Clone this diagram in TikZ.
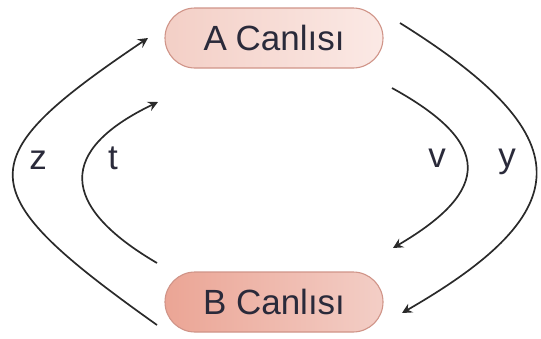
\documentclass[tikz,border=0pt]{standalone}
\usepackage{fontspec}
\setmainfont{Liberation Sans}
\usetikzlibrary{arrows.meta}
\definecolor{txt}{HTML}{2A2A3A}
\definecolor{arr}{HTML}{2A2A2A}
\definecolor{bord}{HTML}{D09488}
\definecolor{aL}{HTML}{F3CFC6}
\definecolor{aR}{HTML}{FBE9E5}
\definecolor{bL}{HTML}{EBA595}
\definecolor{bR}{HTML}{F3CEC6}
\tikzset{
  canli/.style={draw=bord, line width=1.1pt, rounded corners=30pt, minimum width=218pt, minimum height=60pt, inner sep=0pt, text=txt, font=\fontsize{35}{38}\selectfont},
  flow/.style={draw=arr, line width=1.7pt, -{Stealth[length=10pt,width=10pt,inset=3.5pt]}},
  lbl/.style={text=txt, font=\fontsize{35}{38}\selectfont}
}
\begin{document}
\begin{tikzpicture}[x=1pt,y=-1pt]
\useasboundingbox (0,0) rectangle (541,338);
\node[canli, left color=aL, right color=aR] (A) at (274,38) {A\kern-1pt\ Canlısı};
\node[canli, left color=bL, right color=bR] (B) at (274,302) {B Canlısı};
\coordinate (z1) at (157,325); \coordinate (z2) at (148,38);
\coordinate (t1) at (157,263); \coordinate (t2) at (158,102);
\coordinate (y1) at (400,23); \coordinate (y2) at (402,313);
\coordinate (v1) at (392,88); \coordinate (v2) at (393,248);
\draw[flow] (z1) .. controls (-33,190) and (-33,160) .. (z2);
\draw[flow] (t1) .. controls (58,205) and (58,150) .. (t2);
\draw[flow] (y1) .. controls (581,136) and (581,210) .. (y2);
\draw[flow] (v1) .. controls (492,143) and (492,190) .. (v2);
\node[lbl] (lz) at (38,160) {z};
\node[lbl] (lt) at (113,158) {t};
\node[lbl] (lv) at (437,158) {v};
\node[lbl] (ly) at (507,162) {y};
\end{tikzpicture}
\end{document}
